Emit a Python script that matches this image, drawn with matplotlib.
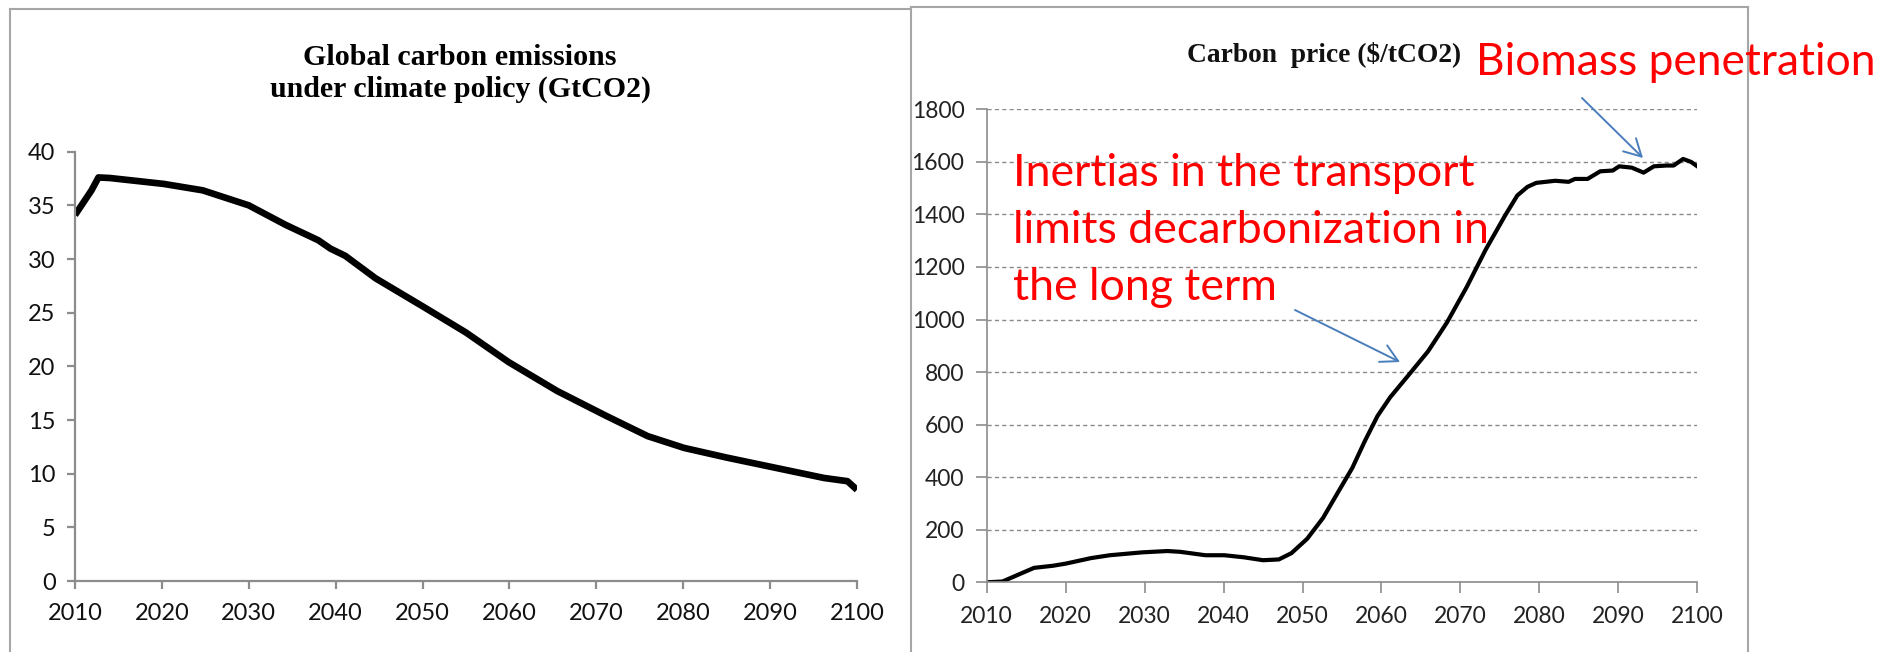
import matplotlib
matplotlib.use("Agg")
import matplotlib.pyplot as plt
from matplotlib.lines import Line2D
from matplotlib.patches import FancyArrowPatch

# ---------------- data ----------------
emis_years = [2010, 2011.9, 2012.7, 2014, 2020.2, 2024.7, 2030, 2034.2, 2038, 2039.4,
              2041.1, 2044.6, 2050.2, 2055, 2059.9, 2065.5, 2071.1, 2075.9, 2080.1,
              2085, 2090.6, 2096.2, 2098.9, 2100]
emis_values = [34.1, 36.4, 37.6, 37.55, 37.0, 36.4, 35.0, 33.2, 31.75, 30.97,
               30.3, 28.2, 25.5, 23.15, 20.4, 17.7, 15.4, 13.5, 12.4,
               11.5, 10.55, 9.6, 9.3, 8.5]

price_years = [2010, 2012, 2016, 2018.4, 2020, 2023.2, 2025.6, 2029.7, 2032.9, 2034.5,
               2037.7, 2040.1, 2042.6, 2045, 2047, 2048.6, 2050.6, 2052.6, 2054.6,
               2056.3, 2057.9, 2059.5, 2061.1, 2063.5, 2065.9, 2068.3, 2070.8, 2073.2,
               2075.6, 2077.2, 2078.5, 2079.6, 2082, 2083.7, 2084.5, 2086.1, 2087.7,
               2089.3, 2090.1, 2091.7, 2093.2, 2094.5, 2096.1, 2097, 2098.2, 2099.2, 2100]
price_values = [0, 3, 55, 63, 71, 92, 103, 114, 119, 116,
                103, 103, 95, 84, 87, 111, 166, 245, 348,
                435, 538, 633, 704, 791, 879, 989, 1124, 1266,
                1393, 1472, 1505, 1520, 1528, 1524, 1535, 1535, 1564,
                1567, 1583, 1578, 1559, 1583, 1586, 1586, 1611, 1600, 1583]

emis_yticks = [0, 5, 10, 15, 20, 25, 30, 35, 40]
price_yticks = [0, 200, 400, 600, 800, 1000, 1200, 1400, 1600, 1800]
xticks = [2010, 2020, 2030, 2040, 2050, 2060, 2070, 2080, 2090, 2100]

title_left_1 = "Global carbon emissions"
title_left_2 = "under climate policy (GtCO2)"
title_right = "Carbon  price (\\$/tCO2)"
note_transport = ["Inertias in the transport", "limits decarbonization in", "the long term"]
note_biomass = "Biomass penetration"

# ---------------- layout ----------------
W, H = 1898, 652
fig = plt.figure(figsize=(W / 100, H / 100), dpi=100)
fig.patch.set_facecolor("white")


def ax_rect(x0, x1, ytop, ybot):
    return [x0 / W, 1 - ybot / H, (x1 - x0) / W, (ybot - ytop) / H]


axis_gray = "#8c8c8c"
sans = ["Lato", "DejaVu Sans"]
serif = ["Liberation Serif", "DejaVu Serif"]

# panel borders
border = "#a6a6a6"
for (xa, ya, xb, yb) in [(10, 9, 10, H), (10, 9, 911, 9), (911, 7, 911, H),
                         (911, 7, 1748, 7), (1748, 7, 1748, H)]:
    fig.add_artist(Line2D([xa / W, xb / W], [1 - ya / H, 1 - yb / H],
                          transform=fig.transFigure, color=border, lw=1.5))

# ---------- left axes ----------
axL = fig.add_axes(ax_rect(75, 857, 151.7, 581))
axL.plot(emis_years, emis_values, color="black", lw=4.8, solid_capstyle="butt",
         solid_joinstyle="round")
axL.set_xlim(2010, 2100)
axL.set_ylim(0, 40)
axL.set_xticks(xticks)
axL.set_yticks(emis_yticks)
for s in ["top", "right"]:
    axL.spines[s].set_visible(False)
for s in ["left", "bottom"]:
    axL.spines[s].set_color(axis_gray)
    axL.spines[s].set_linewidth(1.6)
axL.tick_params(axis="both", direction="out", color=axis_gray, width=1.6, length=6,
                labelsize=17, labelcolor="#111111")
axL.tick_params(axis="x", pad=10)
axL.tick_params(axis="y", pad=8)
for lab in axL.get_xticklabels() + axL.get_yticklabels():
    lab.set_family(sans)
axL.patch.set_visible(False)

# ---------- right axes ----------
axR = fig.add_axes(ax_rect(986.7, 1697.3, 109.3, 582.3))
axR.plot(price_years, price_values, color="black", lw=3.0, solid_joinstyle="round")
axR.set_xlim(2010, 2100)
axR.set_ylim(0, 1800)
axR.set_xticks(xticks)
axR.set_yticks(price_yticks)
axR.yaxis.grid(True, color="#8a8a8a", lw=1.0, linestyle=(0, (3, 2.3)))
axR.set_axisbelow(True)
for s in ["top", "right"]:
    axR.spines[s].set_visible(False)
for s in ["left", "bottom"]:
    axR.spines[s].set_color(axis_gray)
    axR.spines[s].set_linewidth(1.2)
axR.tick_params(axis="both", direction="out", color=axis_gray, width=1.2, length=8,
                labelsize=16.5, labelcolor="#222222")
axR.tick_params(axis="x", pad=9)
axR.tick_params(axis="y", pad=8)
for lab in axR.get_xticklabels() + axR.get_yticklabels():
    lab.set_family(sans)
axR.patch.set_visible(False)

# ---------- texts ----------
renderer = fig.canvas.get_renderer()


def fit_text(x, y, s, width_px, ha="left", **kw):
    t = fig.text(x / W, 1 - y / H, s, ha=ha, va="baseline", fontsize=20, **kw)
    w = t.get_window_extent(renderer=renderer).width
    t.set_fontsize(20 * width_px / w)
    return t


fit_text(460, 65, title_left_1, 313, ha="center", family=serif, weight="bold", color="black")
fit_text(460, 97, title_left_2, 382, ha="center", family=serif, weight="bold", color="black")
fit_text(1461.5, 62, title_right, 275, ha="right", family=serif, weight="bold", color="#111111")

red = "#ff0000"
t1 = fit_text(1013, 186, note_transport[0], 463, family=sans, color=red)
fs = t1.get_fontsize()
fig.text(1013 / W, 1 - 243 / H, note_transport[1], va="baseline", family=sans,
         color=red, fontsize=fs)
fig.text(1013 / W, 1 - 300 / H, note_transport[2], va="baseline", family=sans,
         color=red, fontsize=fs)
fit_text(1476, 75, note_biomass, 400, family=sans, color=red)

# ---------- arrows ----------
arrow_col = "#4a7ebb"
for (sx, sy, tx, ty) in [(1582, 98, 1643, 158), (1295, 310, 1400, 362)]:
    fig.add_artist(FancyArrowPatch(
        (sx / W, 1 - sy / H), (tx / W, 1 - ty / H), transform=fig.transFigure,
        arrowstyle="->,head_length=0.55,head_width=0.3", mutation_scale=22,
        color=arrow_col, lw=1.4, shrinkA=0, shrinkB=0))

fig.savefig("out.png", dpi=100, facecolor="white")
